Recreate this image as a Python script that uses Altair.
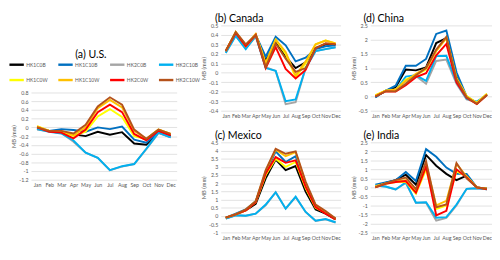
import altair as alt
import pandas as pd

months = ["Jan", "Feb", "Mar", "Apr", "May", "Jun", "Jul", "Aug", "Sep", "Oct", "Nov", "Dec"]
series = ["HK1C0B", "HK1C10B", "HK2C0B", "HK2C10B", "HK1C0W", "HK1C10W", "HK2C0W", "HK2C10W"]
colors = ["#000000", "#0070C0", "#A5A5A5", "#00B0F0", "#FFFF00", "#FFC000", "#FF0000", "#B5521A"]

us_vals = {
    "HK1C0B":  [-0.03, -0.08, -0.12, -0.16, -0.20, -0.10, -0.17, -0.11, -0.37, -0.40, -0.10, -0.20],
    "HK1C10B": [-0.03, -0.08, -0.04, -0.06, -0.10, 0.00, -0.04, 0.02, -0.28, -0.35, -0.12, -0.22],
    "HK2C0B":  [-0.05, -0.09, -0.13, -0.33, -0.58, -0.70, -0.98, -0.90, -0.84, -0.50, -0.13, -0.23],
    "HK2C10B": [-0.04, -0.10, -0.14, -0.30, -0.58, -0.70, -0.98, -0.89, -0.84, -0.49, -0.12, -0.23],
    "HK1C0W":  [0.03, -0.08, -0.10, -0.20, -0.10, 0.25, 0.42, 0.24, -0.20, -0.27, -0.05, -0.15],
    "HK1C10W": [0.02, -0.08, -0.08, -0.18, 0.00, 0.44, 0.63, 0.46, -0.08, -0.26, -0.05, -0.15],
    "HK2C0W":  [0.00, -0.10, -0.12, -0.25, -0.05, 0.35, 0.52, 0.35, -0.15, -0.30, -0.08, -0.18],
    "HK2C10W": [0.00, -0.08, -0.08, -0.14, 0.06, 0.48, 0.69, 0.52, -0.05, -0.26, -0.05, -0.15],
}
canada_vals = {
    "HK1C0B":  [0.23, 0.42, 0.28, 0.40, 0.13, 0.32, 0.17, 0.05, 0.11, 0.26, 0.30, 0.30],
    "HK1C10B": [0.22, 0.42, 0.29, 0.40, 0.17, 0.38, 0.29, 0.12, 0.16, 0.25, 0.28, 0.29],
    "HK2C0B":  [0.22, 0.39, 0.26, 0.38, 0.06, 0.02, -0.33, -0.31, 0.05, 0.23, 0.25, 0.27],
    "HK2C10B": [0.21, 0.39, 0.25, 0.39, 0.05, 0.02, -0.30, -0.28, 0.05, 0.23, 0.25, 0.27],
    "HK1C0W":  [0.23, 0.43, 0.28, 0.40, 0.10, 0.35, 0.20, -0.05, 0.10, 0.30, 0.34, 0.31],
    "HK1C10W": [0.23, 0.43, 0.29, 0.41, 0.10, 0.35, 0.22, -0.03, 0.12, 0.30, 0.34, 0.31],
    "HK2C0W":  [0.23, 0.42, 0.28, 0.40, 0.05, 0.27, 0.04, -0.06, 0.03, 0.26, 0.31, 0.30],
    "HK2C10W": [0.23, 0.43, 0.30, 0.40, 0.06, 0.31, 0.15, 0.01, 0.05, 0.26, 0.31, 0.30],
}
mexico_vals = {
    "HK1C0B":  [-0.12, 0.10, 0.35, 0.75, 2.30, 3.45, 2.80, 3.05, 1.50, 0.40, 0.15, -0.20],
    "HK1C10B": [-0.10, 0.15, 0.40, 0.90, 2.60, 3.95, 3.30, 3.65, 1.90, 0.60, 0.20, -0.15],
    "HK2C0B":  [-0.15, 0.05, 0.02, 0.15, 0.65, 1.45, 0.45, 1.15, 0.25, -0.30, -0.20, -0.40],
    "HK2C10B": [-0.15, 0.05, 0.02, 0.15, 0.70, 1.45, 0.45, 1.18, 0.25, -0.28, -0.18, -0.38],
    "HK1C0W":  [-0.10, 0.10, 0.35, 0.85, 2.50, 3.50, 3.00, 3.30, 1.70, 0.50, 0.20, -0.20],
    "HK1C10W": [-0.10, 0.10, 0.38, 0.90, 2.75, 4.05, 3.65, 3.90, 2.00, 0.65, 0.25, -0.15],
    "HK2C0W":  [-0.10, 0.10, 0.35, 0.85, 2.60, 3.60, 3.25, 3.40, 1.80, 0.55, 0.15, -0.20],
    "HK2C10W": [-0.10, 0.10, 0.40, 0.90, 2.80, 4.10, 3.80, 3.95, 2.10, 0.70, 0.30, -0.15],
}
china_vals = {
    "HK1C0B":  [-0.02, 0.20, 0.33, 0.95, 0.92, 1.02, 1.88, 2.05, 0.70, -0.02, -0.25, 0.07],
    "HK1C10B": [-0.03, 0.20, 0.38, 1.08, 1.08, 1.32, 2.20, 2.32, 0.85, 0.00, -0.22, 0.08],
    "HK2C0B":  [0.00, 0.20, 0.20, 0.55, 0.72, 0.45, 1.25, 1.30, 0.45, -0.10, -0.20, 0.05],
    "HK2C10B": [0.00, 0.20, 0.22, 0.70, 0.75, 0.55, 1.42, 1.43, 0.50, -0.08, -0.18, 0.05],
    "HK1C0W":  [0.05, 0.20, 0.22, 0.60, 0.75, 0.95, 1.60, 2.08, 0.65, 0.02, -0.22, 0.10],
    "HK1C10W": [0.03, 0.20, 0.25, 0.55, 0.80, 1.00, 1.60, 2.05, 0.62, 0.00, -0.24, 0.08],
    "HK2C0W":  [0.00, 0.18, 0.17, 0.40, 0.68, 0.82, 1.45, 1.85, 0.50, -0.05, -0.27, 0.05],
    "HK2C10W": [0.00, 0.18, 0.18, 0.45, 0.75, 1.00, 1.65, 2.10, 0.60, -0.03, -0.26, 0.05],
}
india_vals = {
    "HK1C0B":  [0.05, 0.25, 0.40, 0.70, 0.15, 1.80, 1.20, 0.75, 0.40, 0.65, 0.00, -0.08],
    "HK1C10B": [0.15, 0.28, 0.40, 0.85, 0.35, 2.12, 1.70, 1.10, 0.75, 0.75, 0.00, -0.08],
    "HK2C0B":  [0.10, 0.05, -0.12, 0.25, -0.85, -0.85, -1.85, -1.70, -1.00, -0.08, -0.05, -0.10],
    "HK2C10B": [0.10, 0.05, -0.12, 0.28, -0.85, -0.83, -1.68, -1.65, -0.95, -0.08, -0.05, -0.10],
    "HK1C0W":  [0.05, 0.20, 0.30, 0.30, -0.35, 1.00, -1.20, -1.00, 0.90, 0.60, 0.00, -0.08],
    "HK1C10W": [0.05, 0.22, 0.35, 0.40, -0.20, 1.30, -1.00, -0.75, 1.30, 0.60, 0.00, -0.08],
    "HK2C0W":  [0.00, 0.20, 0.30, 0.35, -0.30, 1.15, -1.55, -1.30, 1.00, 0.55, 0.00, -0.10],
    "HK2C10W": [0.00, 0.22, 0.40, 0.55, -0.10, 1.45, -1.10, -0.95, 1.35, 0.50, 0.00, -0.08],
}

us_ticks = [0.8, 0.6, 0.4, 0.2, 0, -0.2, -0.4, -0.6, -0.8, -1, -1.2]
canada_ticks = [0.5, 0.4, 0.3, 0.2, 0.1, 0, -0.1, -0.2, -0.3, -0.4]
mexico_ticks = [4.5, 4, 3.5, 3, 2.5, 2, 1.5, 1, 0.5, 0, -0.5, -1]
china_ticks = [2.5, 2, 1.5, 1, 0.5, 0, -0.5]
india_ticks = [2.5, 2, 1.5, 1, 0.5, 0, -0.5, -1, -1.5, -2, -2.5]

FONT = "Lato"


def ttl(text, **kw):
    params = dict(font=FONT, fontSize=11, fontWeight="normal", color="#000000",
                  anchor="start", frame="group", dx=-6, offset=0)
    params.update(kw)
    return alt.TitleParams(text, **params)


def panel(vals, ticks, title, w, h, legend=None):
    rows = [{"month": m, "series": s, "mb": v}
            for s in series for m, v in zip(months, vals[s])]
    df = pd.DataFrame(rows)
    base = alt.Chart(df)
    layers = []
    for s in series:
        layers.append(
            base.transform_filter(alt.datum.series == s)
            .mark_line(strokeWidth=2)
            .encode(
                x=alt.X("month:N", sort=months,
                        scale=alt.Scale(type="point", padding=0.5),
                        axis=alt.Axis(title=None, labelAngle=0, grid=False,
                                      labelOverlap=False, labelPadding=3)),
                y=alt.Y("mb:Q",
                        scale=alt.Scale(domain=[min(ticks), max(ticks)], nice=False, zero=False),
                        axis=alt.Axis(title="MB (mm)", values=ticks,
                                      labelExpr="'' + datum.value",
                                      labelPadding=3, titlePadding=2)),
                color=alt.Color("series:N",
                                scale=alt.Scale(domain=series, range=colors),
                                legend=legend),
            )
        )
    return alt.layer(*layers).properties(width=w, height=h, title=title)


us_legend = alt.Legend(orient="none", legendX=-24, legendY=-38, direction="horizontal",
                       columns=4, title=None, symbolType="stroke", symbolSize=225,
                       symbolStrokeWidth=2.5, labelFontSize=5.2, labelColor="#595959",
                       labelFont=FONT, columnPadding=5, rowPadding=2, labelOffset=1)

us = panel(us_vals, us_ticks, ttl("(a) U.S.", anchor="middle", frame="bounds", dx=-14, offset=-4),
           152, 91, legend=us_legend)

spacer = alt.Chart().mark_text(text=" ").encode(x=alt.value(0), y=alt.value(0)).properties(
    width=140, height=25)

us_col = alt.vconcat(spacer, us, spacing=0).resolve_scale(
    x="independent", y="independent", color="independent")

canada = panel(canada_vals, canada_ticks, ttl("(b) Canada"), 125, 89)
china = panel(china_vals, china_ticks, ttl("(d) China", dx=-7), 127, 89)
mexico = panel(mexico_vals, mexico_ticks, ttl("(c) Mexico"), 125, 94)
india = panel(india_vals, india_ticks, ttl("(e) India", dx=-7), 127, 94)

row1 = alt.hconcat(canada, china, spacing=10).resolve_scale(
    x="independent", y="independent", color="independent")
row2 = alt.hconcat(mexico, india, spacing=10).resolve_scale(
    x="independent", y="independent", color="independent")
right = alt.vconcat(row1, row2, spacing=11).resolve_scale(
    x="independent", y="independent", color="independent")

chart = alt.hconcat(us_col, right, spacing=0).resolve_scale(
    x="independent", y="independent", color="independent"
).properties(padding=0).configure_view(stroke=None).configure_axis(
    labelFont=FONT, labelFontSize=5.5, labelColor="#595959",
    titleFont=FONT, titleFontSize=6, titleColor="#595959", titleFontWeight="normal",
    gridColor="#D9D9D9", gridWidth=0.8, domain=False, ticks=False,
)

chart.save("out.html", embed_options={"renderer": "svg", "actions": False})
